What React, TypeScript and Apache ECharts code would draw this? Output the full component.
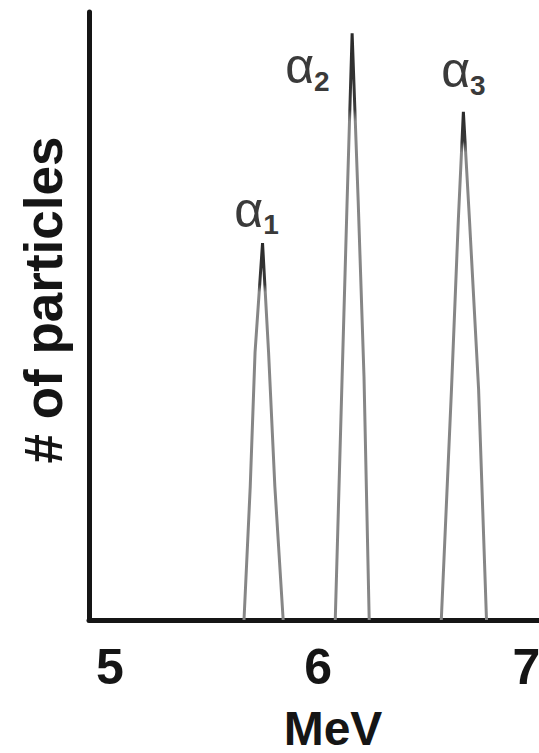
import React, { useEffect, useRef } from "react";
import * as echarts from "echarts";

// Energy (MeV) and particle count (relative) for each alpha peak
const alpha1Energy = [5.644, 5.674, 5.697, 5.733, 5.762, 5.792, 5.832];
const alpha1Count = [0, 22, 44, 62, 44, 22, 0];
const alpha2Energy = [6.082, 6.115, 6.139, 6.163, 6.192, 6.22, 6.245];
const alpha2Count = [0, 40, 69, 96.5, 69, 40, 0];
const alpha3Energy = [6.591, 6.64, 6.673, 6.697, 6.726, 6.77, 6.808];
const alpha3Count = [0, 38, 66, 83.6, 66, 38, 0];

const peakNames = ["1", "2", "3"];
const xTickValues = [5, 6, 7];
const xName = "MeV";
const yName = "# of particles";

const FONT = "'Liberation Sans', Arial, sans-serif";

const labelRich = {
  a: { fontSize: 50, fontFamily: FONT, color: "#3a3a3a", lineHeight: 54, verticalAlign: "top" as const },
  s: { fontSize: 28, fontFamily: FONT, color: "#3a3a3a", lineHeight: 54, verticalAlign: "bottom" as const, fontWeight: "bold" as const },
};

function buildPeak(energies: number[], counts: number[], name: string, labelCfg: any) {
  let topIdx = 0;
  counts.forEach((c, i) => {
    if (c > counts[topIdx]) topIdx = i;
  });
  return energies.map((e, i) => {
    if (i === topIdx) {
      return {
        value: [e, counts[i]],
        label: {
          show: true,
          formatter: `{a|α}{s|${name}}`,
          rich: labelRich,
          ...labelCfg,
        },
      };
    }
    return { value: [e, counts[i]] };
  });
}

function peakColor(darkFrac: number) {
  return new echarts.graphic.LinearGradient(0, 0, 0, 1, [
    { offset: 0, color: "#2a2a2a" },
    { offset: darkFrac, color: "#3a3a3a" },
    { offset: darkFrac + 0.02, color: "#868686" },
    { offset: 1, color: "#868686" },
  ]);
}

export default function App() {
  const ref = useRef<HTMLDivElement>(null);
  useEffect(() => {
    if (!ref.current) return;
    const chart = echarts.init(ref.current, undefined, { renderer: "svg" });
    const seriesBase = {
      type: "line" as const,
      symbol: "circle",
      symbolSize: 1,
      showSymbol: true,
      itemStyle: { color: "rgba(0,0,0,0)" },
      silent: true,
      z: 1,
    };
    chart.setOption({
      animation: false,
      backgroundColor: "#ffffff",
      grid: {
        left: 89,
        right: 0,
        top: 12,
        bottom: 133,
        containLabel: false,
        outerBoundsMode: "none",
      },
      xAxis: {
        type: "value",
        min: 4.9,
        max: 7.06,
        axisLine: { show: true, lineStyle: { color: "#151515", width: 5 } },
        axisTick: { show: false },
        splitLine: { show: false },
        axisLabel: {
          customValues: xTickValues,
          fontSize: 50,
          fontWeight: "bold",
          fontFamily: FONT,
          color: "#151515",
          margin: 22,
        },
        name: xName,
        nameLocation: "middle",
        nameGap: 86,
        nameTextStyle: {
          fontSize: 48,
          lineHeight: 44,
          fontWeight: "bold",
          fontFamily: FONT,
          color: "#151515",
          padding: [0, 0, 0, 38],
        },
      },
      yAxis: {
        type: "value",
        min: 0,
        max: 100,
        axisLine: { show: true, lineStyle: { color: "#151515", width: 5 } },
        axisTick: { show: false },
        splitLine: { show: false },
        axisLabel: { show: false },
        name: yName,
        nameLocation: "middle",
        nameRotate: 90,
        nameGap: 19,
        nameTextStyle: {
          fontSize: 53,
          fontWeight: "bold",
          fontFamily: FONT,
          color: "#151515",
          padding: [0, 0, 0, 32],
        },
      },
      series: [
        {
          ...seriesBase,
          lineStyle: { color: peakColor(0.11), width: 3 },
          data: buildPeak(alpha1Energy, alpha1Count, peakNames[0], {
            position: "top",
            distance: 4,
            offset: [-6, 0],
          }),
        },
        {
          ...seriesBase,
          lineStyle: { color: peakColor(0.13), width: 3 },
          data: buildPeak(alpha2Energy, alpha2Count, peakNames[1], {
            position: "left",
            distance: 22,
            offset: [0, 35],
          }),
        },
        {
          ...seriesBase,
          lineStyle: { color: peakColor(0.06), width: 3 },
          data: buildPeak(alpha3Energy, alpha3Count, peakNames[2], {
            position: "top",
            distance: 4,
            offset: [0, -8],
          }),
        },
      ],
    });
    return () => chart.dispose();
  }, []);
  return (
    <div
      ref={ref}
      style={{ position: "fixed", left: 0, top: 0, width: 539, height: 753, background: "#fff" }}
    />
  );
}
